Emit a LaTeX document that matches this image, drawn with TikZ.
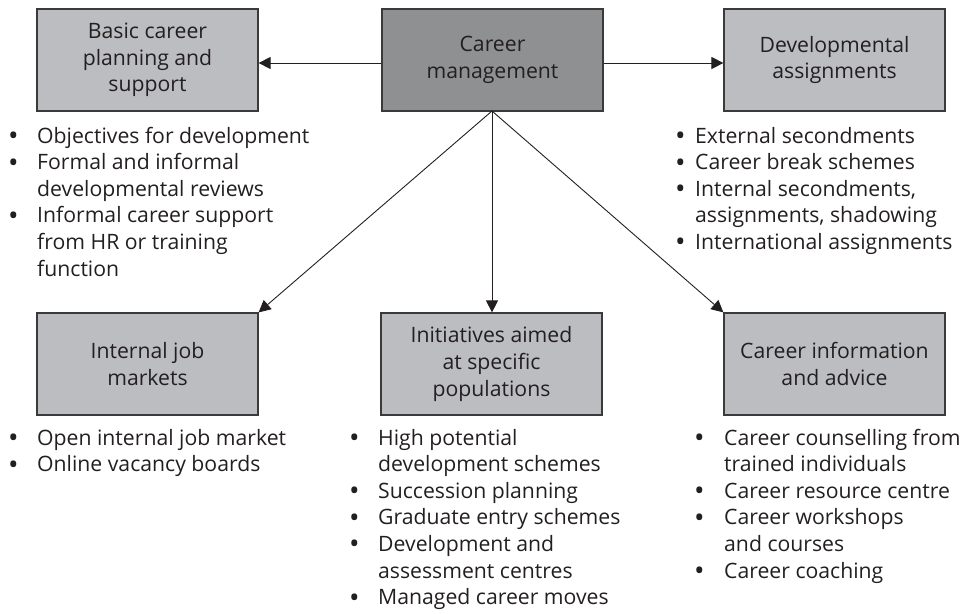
\documentclass[tikz,border=0pt]{standalone}
\usepackage{fontspec}
\setmainfont{Open Sans}
\usetikzlibrary{arrows.meta}
\definecolor{boxlight}{HTML}{BCBDC0}
\definecolor{boxdark}{HTML}{8F9092}
\definecolor{edgegray}{HTML}{3A3A3A}
\definecolor{ink}{HTML}{231F20}
\newcommand{\bl}{\raisebox{-2.4pt}{\fontsize{28}{28}\selectfont\textbullet}}
\tikzset{
  every node/.style={text=ink},
  txt/.style={font=\fontsize{21.2}{26.6}\selectfont, inner sep=0pt},
  box/.style={txt, draw=edgegray, line width=1.2pt, fill=boxlight,
    minimum width=221pt, minimum height=102pt, align=center},
  dbox/.style={box, fill=boxdark},
  lst/.style={txt, anchor=base west},
  arr/.style={draw=ink, line width=0.9pt, -{Triangle[length=12pt,width=12pt]}}
}
\begin{document}
\begin{tikzpicture}[x=1pt,y=-1pt]
\useasboundingbox (0,0) rectangle (965,613);
% boxes
\node[box]  (bc) at (147.5,60) {Basic career\\planning and\\support};
\node[dbox] (cm) at (492.5,60) {Career\\management};
\node[box]  (da) at (834.5,60) {Developmental\\assignments};
\node[box]  (ij) at (147.5,364) {Internal job\\markets};
\node[box]  (ip) at (491.5,364) {Initiatives aimed\\at specific\\populations};
\node[box]  (ci) at (834.5,364) {Career information\\and advice};
% connectors
\coordinate (hub) at (492,111);
\draw[arr] ([yshift=-3pt]cm.west) -- ([yshift=-3pt]bc.east);
\draw[arr] ([yshift=-3pt]cm.east) -- ([yshift=-3pt]da.west);
\draw[arr] (hub) -- (ij.north east);
\draw[arr] (hub) -- (hub |- ip.north);
\draw[arr] (hub) -- (ci.north west);
% lists
\node[lst] (l1) at (8,143) {\begin{tabular}[t]{@{}p{29pt}@{}l@{}}
\bl & Objectives for development\\
\bl & Formal and informal\\
    & developmental reviews\\
\bl & Informal career support\\
    & from HR or training\\
    & function
\end{tabular}};
\node[lst] (l2) at (675,143) {\begin{tabular}[t]{@{}p{20pt}@{}l@{}}
\bl & External secondments\\
\bl & Career break schemes\\
\bl & Internal secondments,\\
    & assignments, shadowing\\
\bl & International assignments
\end{tabular}};
\node[lst] (l3) at (8,445) {\begin{tabular}[t]{@{}p{29pt}@{}l@{}}
\bl & Open internal job market\\
\bl & Online vacancy boards
\end{tabular}};
\node[lst] (l4) at (349,445) {\begin{tabular}[t]{@{}p{29pt}@{}l@{}}
\bl & High potential\\
    & development schemes\\
\bl & Succession planning\\
\bl & Graduate entry schemes\\
\bl & Development and\\
    & assessment centres\\
\bl & Managed career moves
\end{tabular}};
\node[lst] (l5) at (694,445) {\begin{tabular}[t]{@{}p{30pt}@{}l@{}}
\bl & Career counselling from\\
    & trained individuals\\
\bl & Career resource centre\\
\bl & Career workshops\\
    & and courses\\
\bl & Career coaching
\end{tabular}};
\end{tikzpicture}
\end{document}
